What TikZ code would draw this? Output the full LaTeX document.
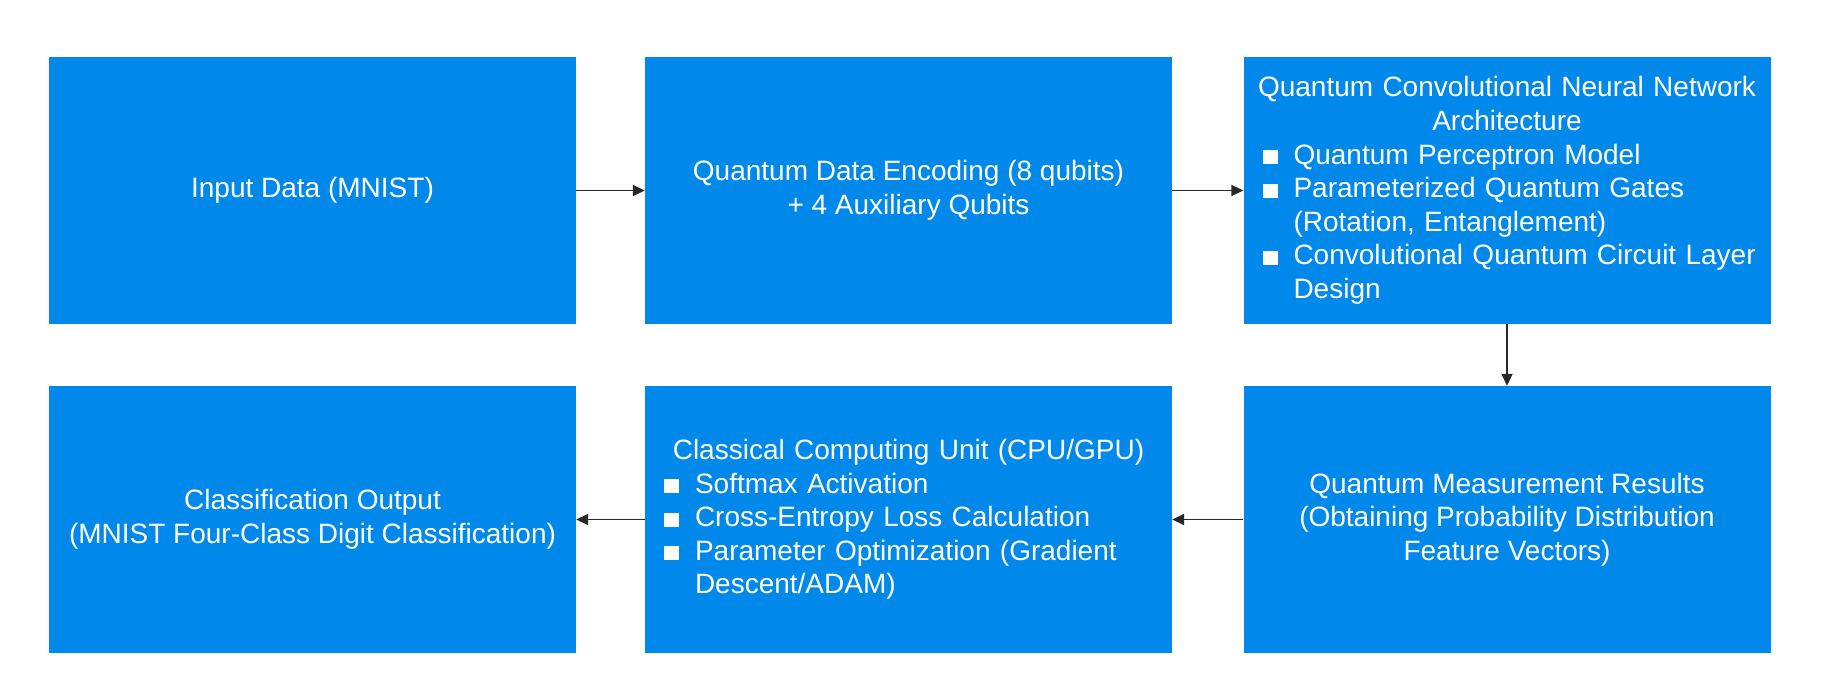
\documentclass[tikz,border=0pt]{standalone}
\usepackage{fontspec}
\setmainfont{Liberation Sans}
\usetikzlibrary{arrows.meta}
\definecolor{qblue}{RGB}{0,137,234}
\definecolor{arrgrey}{RGB}{40,40,40}
\newcommand{\qbul}{\makebox[31pt][l]{\rule{15pt}{14pt}}}
\newcommand{\qind}{\hspace*{31pt}}
\newcommand{\qtitle}[1]{\makebox[489pt][c]{#1}}
\begin{document}
\begin{tikzpicture}[x=1pt,y=-1pt,
  box/.style={fill=qblue, minimum width=527pt, minimum height=267pt, inner sep=0pt,
    text=white, font=\fontsize{28pt}{33.6pt}\selectfont, align=center},
  listbox/.style={box, text width=489pt, align=left},
  conn/.style={draw=arrgrey, line width=1.8pt, -{Triangle[length=12pt,width=11pt]}}]
\useasboundingbox (0,0) rectangle (1822,700);
\node[box] (in) at (312.5,190.5) {Input Data (MNIST)};
\node[box] (enc) at (908.5,190.5) {Quantum Data Encoding (8 qubits)\\+ 4 Auxiliary Qubits};
\node[listbox] (arch) at (1507,190.5) {\qtitle{Quantum Convolutional Neural Network}\\
\qtitle{Architecture}\\
\mbox{\qbul Quantum Perceptron Model}\\
\mbox{\qbul Parameterized Quantum Gates}\\
\mbox{\qind(Rotation, Entanglement)}\\
\mbox{\qbul Convolutional Quantum Circuit Layer}\\
\mbox{\qind Design}};
\node[box] (meas) at (1507,519.5) {Quantum Measurement Results\\(Obtaining Probability Distribution\\Feature Vectors)};
\node[listbox] (cls) at (908.5,519.5) {\qtitle{Classical Computing Unit (CPU/GPU)}\\
\mbox{\qbul Softmax Activation}\\
\mbox{\qbul Cross-Entropy Loss Calculation}\\
\mbox{\qbul Parameter Optimization (Gradient}\\
\mbox{\qind Descent/ADAM)}};
\node[box] (out) at (312.5,519.5) {Classification Output\\(MNIST Four-Class Digit Classification)};
\draw[conn] (in) -- (enc);
\draw[conn] (enc) -- (arch);
\draw[conn] (arch) -- (meas);
\draw[conn] (meas) -- (cls);
\draw[conn] (cls) -- (out);
\end{tikzpicture}
\end{document}
